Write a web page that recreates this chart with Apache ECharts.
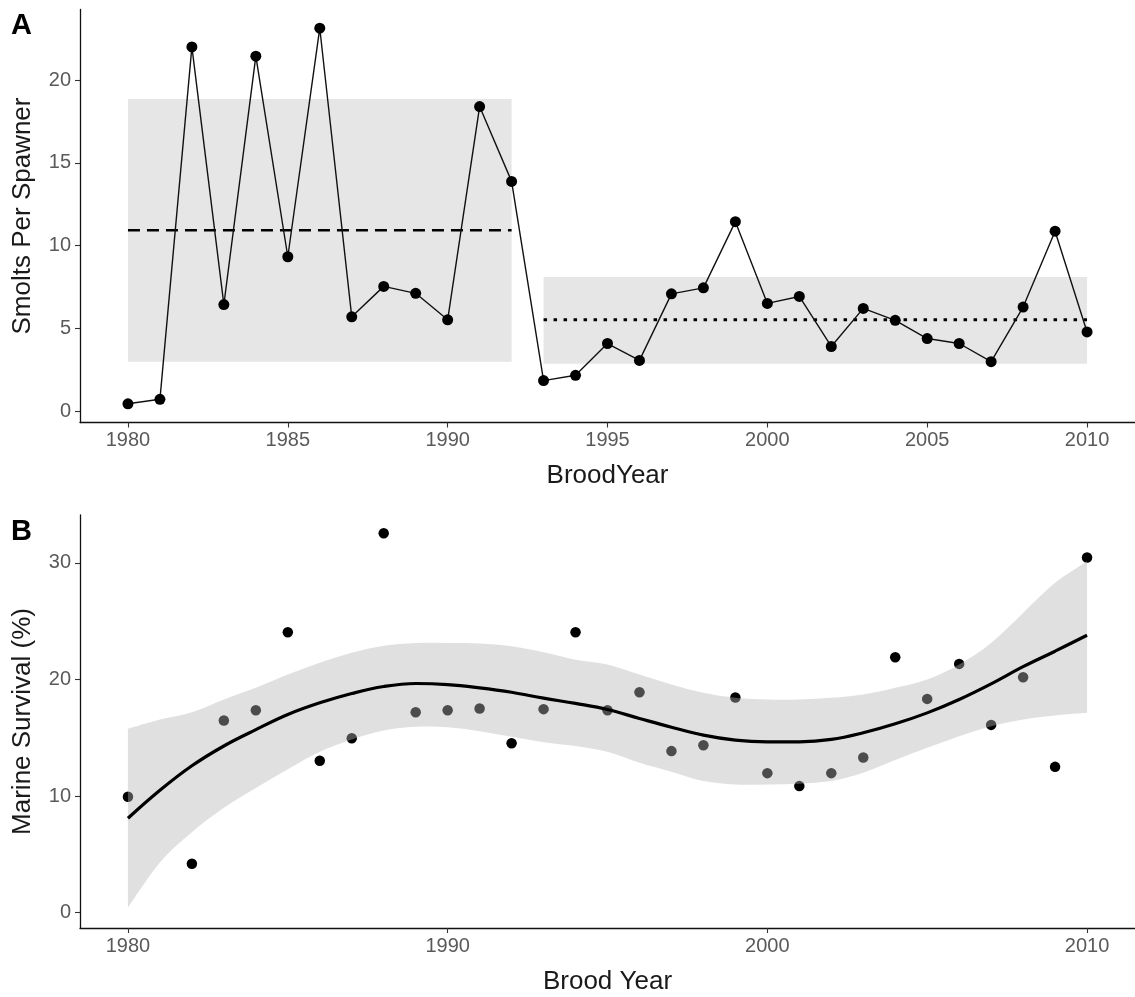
<!DOCTYPE html>
<html>
<head>
<meta charset="utf-8">
<title>Smolts per spawner and marine survival by brood year</title>
<script src="https://cdn.jsdelivr.net/npm/echarts@6/dist/echarts.min.js"></script>
<style>
  html, body { margin: 0; padding: 0; background: #ffffff; }
  #chart { width: 1135px; height: 997px; }
</style>
</head>
<body>
<div id="chart"></div>
<script>
// Panel A: smolts per spawner by brood year
const broodYearsA = [1980, 1981, 1982, 1983, 1984, 1985, 1986, 1987, 1988, 1989, 1990, 1991, 1992,
  1993, 1994, 1995, 1996, 1997, 1998, 1999, 2000, 2001, 2002, 2003, 2004, 2005, 2006, 2007, 2008, 2009, 2010];
const smoltsPerSpawner = [0.45, 0.72, 22.0, 6.44, 21.44, 9.33, 23.13, 5.70, 7.54, 7.12, 5.52, 18.40, 13.88,
  1.85, 2.17, 4.09, 3.07, 7.09, 7.45, 11.45, 6.51, 6.93, 3.91, 6.21, 5.49, 4.39, 4.09, 2.99, 6.29, 10.87, 4.79];

// Two periods: first and last year, range shown as a shaded block, and the period mean
const periodStart = [1980, 1993];
const periodEnd = [1992, 2010];
const periodLow = [2.99, 2.87];
const periodHigh = [18.86, 8.11];
const periodMean = [10.93, 5.53];

// Panel B: marine survival (%) by brood year
const broodYearsB = [1980, 1982, 1983, 1984, 1985, 1986, 1987, 1988, 1989, 1990, 1991, 1992, 1993, 1994,
  1995, 1996, 1997, 1998, 1999, 2000, 2001, 2002, 2003, 2004, 2005, 2006, 2007, 2008, 2009, 2010];
const marineSurvival = [9.95, 4.2, 16.49, 17.37, 24.06, 13.03, 14.97, 32.54, 17.2, 17.37, 17.51, 14.54, 17.46, 24.06,
  17.37, 18.91, 13.86, 14.37, 18.46, 11.97, 10.86, 11.97, 13.31, 21.91, 18.34, 21.34, 16.11, 20.2, 12.51, 30.46];

// Smoothed trend with its confidence band
const fitYears = [1980, 1981, 1982, 1983, 1984, 1985, 1986, 1987, 1988, 1989, 1990, 1991, 1992, 1993, 1994,
  1995, 1996, 1997, 1998, 1999, 2000, 2001, 2002, 2003, 2004, 2005, 2006, 2007, 2008, 2009, 2010];
const fitValue = [8.1, 10.5, 12.6, 14.3, 15.7, 17.0, 18.0, 18.8, 19.4, 19.66, 19.57, 19.29, 18.91, 18.4, 17.95,
  17.43, 16.66, 15.91, 15.23, 14.8, 14.66, 14.66, 14.86, 15.43, 16.2, 17.14, 18.29, 19.63, 21.1, 22.43, 23.8];
const fitLower = [0.43, 4.3, 6.9, 9.0, 10.7, 12.3, 13.8, 14.86, 15.63, 15.94, 15.9, 15.57, 15.09, 14.63, 14.3,
  13.8, 12.86, 12.09, 11.29, 11.0, 11.0, 11.06, 11.29, 12.0, 13.09, 14.14, 15.14, 16.0, 16.57, 16.91, 17.14];
const fitUpper = [15.77, 16.57, 17.2, 18.29, 19.29, 20.43, 21.43, 22.29, 22.9, 23.14, 23.14, 23.09, 22.86, 22.34, 21.7,
  21.29, 20.43, 19.57, 18.86, 18.43, 18.29, 18.29, 18.43, 18.71, 19.29, 20.0, 21.29, 23.14, 25.71, 28.29, 30.14];

const xTicksA = [1980, 1985, 1990, 1995, 2000, 2005, 2010];
const yTicksA = [0, 5, 10, 15, 20];
const xTicksB = [1980, 1990, 2000, 2010];
const yTicksB = [0, 10, 20, 30];

const FONT = '"Liberation Sans", Arial, Helvetica, sans-serif';
const tickColor = '#5a5a5a';
const titleColor = '#1a1a1a';

function xAxisCfg(gridIndex, ticks, name, gap) {
  return {
    type: 'value', gridIndex: gridIndex, min: 1978.5, max: 2011.5,
    name: name, nameLocation: 'middle', nameGap: gap,
    nameTextStyle: { fontFamily: FONT, fontSize: 26, color: titleColor },
    splitLine: { show: false },
    axisLine: { show: true, onZero: false, lineStyle: { color: '#111', width: 1.3 } },
    axisTick: { show: true, length: 5, customValues: ticks, lineStyle: { color: '#333', width: 1.1 } },
    axisLabel: { customValues: ticks, margin: 8, fontFamily: FONT, fontSize: 20, color: tickColor,
      formatter: v => String(v) }
  };
}

function yAxisCfg(gridIndex, min, max, ticks, name, gap) {
  return {
    type: 'value', gridIndex: gridIndex, min: min, max: max,
    name: name, nameLocation: 'middle', nameGap: gap,
    nameTextStyle: { fontFamily: FONT, fontSize: 26, color: titleColor },
    splitLine: { show: false },
    axisLine: { show: true, onZero: false, lineStyle: { color: '#111', width: 1.3 } },
    axisTick: { show: true, length: 5, customValues: ticks, lineStyle: { color: '#333', width: 1.1 } },
    axisLabel: { customValues: ticks, margin: 9, fontFamily: FONT, fontSize: 20, color: tickColor,
      formatter: v => String(v) }
  };
}

// Period blocks as [start, end, low, high]
const periodRects = periodStart.map((s, i) => [s, periodEnd[i], periodLow[i], periodHigh[i]]);

// Confidence band rows as [year, lower, upper]
const bandRows = fitYears.map((y, i) => [y, fitLower[i], fitUpper[i]]);

// Catmull-Rom curve through screen points as SVG path segments
function curveThrough(pts, startCmd) {
  let d = startCmd + pts[0][0] + ' ' + pts[0][1];
  for (let i = 0; i < pts.length - 1; i++) {
    const p0 = pts[Math.max(i - 1, 0)];
    const p1 = pts[i];
    const p2 = pts[i + 1];
    const p3 = pts[Math.min(i + 2, pts.length - 1)];
    const c1x = p1[0] + (p2[0] - p0[0]) / 6, c1y = p1[1] + (p2[1] - p0[1]) / 6;
    const c2x = p2[0] - (p3[0] - p1[0]) / 6, c2y = p2[1] - (p3[1] - p1[1]) / 6;
    d += ' C' + c1x + ' ' + c1y + ' ' + c2x + ' ' + c2y + ' ' + p2[0] + ' ' + p2[1];
  }
  return d;
}

const option = {
  animation: false,
  backgroundColor: '#ffffff',
  grid: [
    { left: 80, top: 9.5, width: 1057, height: 413 },
    { left: 80, top: 515, width: 1057, height: 413 }
  ],
  xAxis: [
    xAxisCfg(0, xTicksA, 'BroodYear', 40),
    xAxisCfg(1, xTicksB, 'Brood Year', 41)
  ],
  yAxis: [
    yAxisCfg(0, -0.68, 24.26, yTicksA, 'Smolts Per Spawner', 44),
    yAxisCfg(1, -1.31, 34.11, yTicksB, 'Marine Survival (%)', 44)
  ],
  graphic: [
    { type: 'text', left: 11, top: 11, style: { text: 'A', font: 'bold 29px ' + FONT, fill: '#000' } },
    { type: 'text', left: 11, top: 517, style: { text: 'B', font: 'bold 29px ' + FONT, fill: '#000' } }
  ],
  series: [
    {
      // shaded period ranges
      type: 'custom', xAxisIndex: 0, yAxisIndex: 0, z: 1, silent: true,
      data: periodRects,
      renderItem: function (params, api) {
        const p0 = api.coord([api.value(0), api.value(3)]);
        const p1 = api.coord([api.value(1), api.value(2)]);
        return { type: 'rect', shape: { x: p0[0], y: p0[1], width: p1[0] - p0[0], height: p1[1] - p0[1] },
          style: { fill: '#e6e6e6' } };
      }
    },
    {
      // first-period mean
      type: 'line', xAxisIndex: 0, yAxisIndex: 0, z: 3, silent: true, symbol: 'none',
      data: [[periodStart[0], periodMean[0]], [periodEnd[0], periodMean[0]]],
      lineStyle: { color: '#000', width: 2.6, type: [12, 7] }
    },
    {
      // second-period mean
      type: 'line', xAxisIndex: 0, yAxisIndex: 0, z: 3, silent: true, symbol: 'none',
      data: [[periodStart[1], periodMean[1]], [periodEnd[1], periodMean[1]]],
      lineStyle: { color: '#000', width: 3, type: [3.5, 6.5] }
    },
    {
      type: 'line', xAxisIndex: 0, yAxisIndex: 0, z: 4, silent: true,
      data: broodYearsA.map((y, i) => [y, smoltsPerSpawner[i]]),
      symbol: 'circle', symbolSize: 11, showSymbol: true,
      itemStyle: { color: '#000' },
      lineStyle: { color: '#111', width: 1.4 }
    },
    {
      type: 'scatter', xAxisIndex: 1, yAxisIndex: 1, z: 2, silent: true,
      data: broodYearsB.map((y, i) => [y, marineSurvival[i]]),
      symbol: 'circle', symbolSize: 10.5,
      itemStyle: { color: '#000', opacity: 1 }
    },
    {
      // confidence band, drawn over the points
      type: 'custom', xAxisIndex: 1, yAxisIndex: 1, z: 3, silent: true,
      data: bandRows,
      renderItem: function (params, api) {
        if (params.dataIndex !== 0) return null;
        const upper = bandRows.map(r => api.coord([r[0], r[2]]));
        const lower = bandRows.slice().reverse().map(r => api.coord([r[0], r[1]]));
        const d = curveThrough(upper, 'M') + ' L' + lower[0][0] + ' ' + lower[0][1] +
          curveThrough(lower, ' L').replace(/^ L[^C]*/, '') + ' Z';
        return { type: 'path', shape: { pathData: d },
          style: { fill: 'rgba(180,180,180,0.42)' } };
      }
    },
    {
      type: 'line', xAxisIndex: 1, yAxisIndex: 1, z: 4, silent: true,
      data: fitYears.map((y, i) => [y, fitValue[i]]),
      symbol: 'none', smooth: 0.4,
      lineStyle: { color: '#000', width: 3.2 }
    }
  ]
};

const chart = echarts.init(document.getElementById('chart'), null, { renderer: 'canvas' });
chart.setOption(option);
</script>
</body>
</html>
